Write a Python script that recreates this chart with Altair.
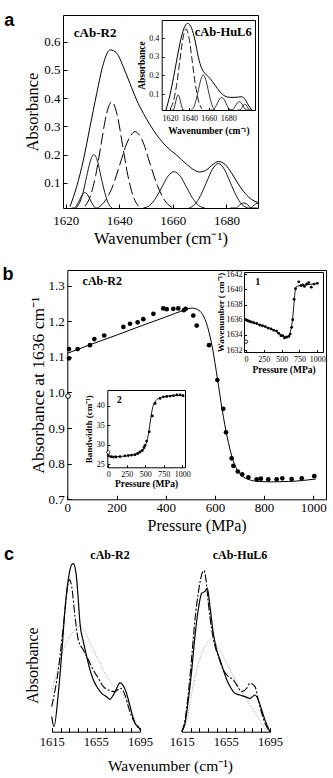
import altair as alt
import pandas as pd

W, H = 333, 778
SERIF = "Liberation Serif"
SANS = "Liberation Sans"
CM = "cm\u207b\u00b9"

# ================= DATA =================
# ---- panel a : cAb-R2 amide I band and its fitted components ----
A_COMP_X = [1621.6, 1624.1, 1626.6, 1629.1, 1631.6, 1634.1, 1636.6, 1639.1, 1641.5, 1644.0, 1646.5, 1649.0, 1651.5,
            1654.0, 1657.7, 1661.4, 1665.2, 1668.0, 1670.0, 1672.5, 1675.0, 1677.0, 1679.5, 1682.0, 1684.5, 1687.0,
            1689.5, 1691.8]
A_COMP_Y = [0.015, 0.086, 0.180, 0.299, 0.417, 0.523, 0.571, 0.559, 0.511, 0.452, 0.393, 0.346, 0.305,
            0.269, 0.228, 0.198, 0.165, 0.145, 0.138, 0.145, 0.165, 0.175, 0.165, 0.133, 0.095, 0.062,
            0.040, 0.030]
A_C1_X = [1622.2, 1623.2, 1624.2, 1625.2, 1626.2, 1627.2, 1628.2, 1629.2, 1630.2, 1631.2, 1632.2]
A_C1_Y = [0.003, 0.009, 0.021, 0.039, 0.057, 0.065, 0.057, 0.039, 0.021, 0.009, 0.003]
A_C2_X = [1623.8, 1625.1, 1626.5, 1627.8, 1629.2, 1630.5, 1631.9, 1633.2, 1634.6, 1635.9, 1637.3]
A_C2_Y = [0.009, 0.027, 0.065, 0.121, 0.176, 0.200, 0.176, 0.121, 0.065, 0.027, 0.009]
A_C3_X = [1627.2, 1629.2, 1631.2, 1633.2, 1635.2, 1637.2, 1639.2, 1641.2, 1643.2, 1645.2, 1647.2]
A_C3_Y = [0.017, 0.052, 0.126, 0.235, 0.342, 0.387, 0.342, 0.235, 0.126, 0.052, 0.017]
A_C4_X = [1632.2, 1634.9, 1637.7, 1640.4, 1643.2, 1645.9, 1648.7, 1651.4, 1654.2, 1656.9, 1659.7]
A_C4_Y = [0.012, 0.038, 0.091, 0.170, 0.248, 0.281, 0.248, 0.170, 0.091, 0.038, 0.012]
A_C5_X = [1649.0, 1651.3, 1653.6, 1655.9, 1658.2, 1660.5, 1662.8, 1665.1, 1667.4, 1669.7, 1672.0]
A_C5_Y = [0.006, 0.019, 0.045, 0.084, 0.123, 0.139, 0.123, 0.084, 0.045, 0.019, 0.006]
A_C6_X = [1666.0, 1668.2, 1670.4, 1672.6, 1674.8, 1677.0, 1679.2, 1681.4, 1683.6, 1685.8, 1688.0]
A_C6_Y = [0.007, 0.023, 0.055, 0.102, 0.148, 0.168, 0.148, 0.102, 0.055, 0.023, 0.007]
A_C7_X = [1681.5, 1682.5, 1683.5, 1684.5, 1685.5, 1686.5, 1687.5, 1688.5, 1689.5, 1690.5, 1691.5]
A_C7_Y = [0.001, 0.004, 0.009, 0.017, 0.025, 0.028, 0.025, 0.017, 0.009, 0.004, 0.001]
A_C8_X = [1688.0, 1689.0, 1690.0, 1691.0, 1691.8]
A_C8_Y = [0.004, 0.010, 0.018, 0.025, 0.028]

# ---- panel a inset : cAb-HuL6 ----
AI_COMP_X = [1615.9, 1620.0, 1625.1, 1630.3, 1634.4, 1638.2, 1642.3, 1645.7, 1649.1, 1652.6, 1656.0, 1661.2,
             1666.3, 1671.4, 1676.6, 1681.7, 1686.9, 1693.8, 1697.2, 1700.6, 1704.0]
AI_COMP_Y = [0.014, 0.095, 0.229, 0.373, 0.453, 0.480, 0.453, 0.390, 0.301, 0.238, 0.211, 0.184,
             0.148, 0.112, 0.089, 0.082, 0.082, 0.085, 0.072, 0.041, 0.014]
AI_C1_X = [1622.2, 1623.4, 1624.7, 1625.9, 1627.2, 1628.4, 1629.7, 1630.9, 1632.2, 1633.4, 1634.7]
AI_C1_Y = [0.004, 0.013, 0.031, 0.058, 0.084, 0.095, 0.084, 0.058, 0.031, 0.013, 0.004]
AI_C2_X = [1620.3, 1623.5, 1626.8, 1630.0, 1633.3, 1636.5, 1639.8, 1643.0, 1646.3, 1649.5, 1652.8]
AI_C2_Y = [0.020, 0.061, 0.146, 0.273, 0.397, 0.450, 0.397, 0.273, 0.146, 0.061, 0.020]
AI_C3_X = [1641.8, 1644.3, 1646.8, 1649.3, 1651.8, 1654.3, 1656.8, 1659.3, 1661.8, 1664.3, 1666.8]
AI_C3_Y = [0.009, 0.027, 0.066, 0.123, 0.178, 0.202, 0.178, 0.123, 0.066, 0.027, 0.009]
AI_C4_X = [1662.0, 1664.2, 1666.5, 1668.7, 1671.0, 1673.2, 1675.5, 1677.7, 1680.0, 1682.2, 1684.5]
AI_C4_Y = [0.004, 0.011, 0.027, 0.050, 0.072, 0.082, 0.072, 0.050, 0.027, 0.011, 0.004]
AI_C5_X = [1681.3, 1683.3, 1685.3, 1687.3, 1689.3, 1691.3, 1693.3, 1695.3, 1697.3, 1699.3, 1701.3]
AI_C5_Y = [0.003, 0.008, 0.019, 0.036, 0.052, 0.059, 0.052, 0.036, 0.019, 0.008, 0.003]
AI_C6_X = [1689.5, 1691.0, 1692.5, 1694.0, 1695.5, 1697.0, 1698.5, 1700.0, 1701.5, 1703.0, 1704.5]
AI_C6_Y = [0.002, 0.006, 0.015, 0.027, 0.040, 0.045, 0.040, 0.027, 0.015, 0.006, 0.002]

# ---- panel b : absorbance at 1636 vs pressure ----
B_P = [7, 7, 42, 92, 110, 150, 228, 255, 286, 309, 350, 390, 404, 431, 451, 474, 481, 512, 526, 576, 610,
       634, 645, 668, 675, 693, 711, 736, 770, 787, 817, 851, 874, 912, 953, 1004]
B_A = [1.122, 1.096, 1.122, 1.133, 1.150, 1.160, 1.184, 1.193, 1.197, 1.206, 1.221, 1.236, 1.234, 1.235,
       1.236, 1.231, 1.235, 1.216, 1.188, 1.133, 1.035, 0.954, 0.888, 0.815, 0.794, 0.778, 0.770, 0.762,
       0.756, 0.758, 0.756, 0.756, 0.759, 0.757, 0.759, 0.765]
B_FIT_P = [0, 100, 200, 300, 400, 470, 510, 530, 550, 570, 590, 610, 630, 650, 670, 690, 710, 740, 780,
           830, 900, 960, 1010]
B_FIT_A = [1.110, 1.136, 1.161, 1.187, 1.212, 1.230, 1.237, 1.233, 1.219, 1.185, 1.125, 1.040, 0.950,
           0.875, 0.818, 0.783, 0.766, 0.755, 0.750, 0.749, 0.750, 0.753, 0.757]
B_OPEN_P = [3]
B_OPEN_A = [0.99]

# ---- inset 1 : band position ----
B1_P = [0, 20, 45, 75, 110, 150, 190, 230, 270, 310, 350, 390, 430, 460, 490, 515, 540, 570, 600, 620,
        640, 655, 675, 695, 740, 770, 795, 820, 850, 880, 915, 955, 1000]
B1_W = [1636.0, 1635.9, 1635.8, 1635.7, 1635.6, 1635.5, 1635.3, 1635.2, 1635.1, 1634.9, 1634.8, 1634.6,
        1634.5, 1634.2, 1633.9, 1633.9, 1633.6, 1633.7, 1633.8, 1634.1, 1635.0, 1636.0, 1638.7, 1640.1,
        1641.0, 1640.5, 1640.6, 1640.4, 1640.7, 1640.9, 1640.3, 1640.7, 1640.8]
B1_FIT_P = [0, 200, 400, 540, 580, 610, 630, 650, 670, 690, 710, 750, 850, 1000]
B1_FIT_W = [1635.9, 1635.3, 1634.6, 1633.8, 1633.8, 1634.1, 1634.7, 1635.8, 1637.8, 1639.8, 1640.4,
            1640.5, 1640.6, 1640.8]
B1_OPEN_P = [0]
B1_OPEN_W = [1633.1]

# ---- inset 2 : bandwidth ----
B2_P = [0, 36, 68, 104, 158, 225, 270, 315, 360, 396, 428, 459, 482, 495, 518, 554, 595, 631, 699, 745,
        790, 835, 880, 925, 970, 1010]
B2_B = [27.2, 26.9, 26.8, 26.8, 26.9, 27.1, 27.2, 27.3, 27.4, 27.7, 28.1, 28.5, 29.2, 29.8, 30.9, 33.3,
        37.4, 40.6, 41.9, 42.3, 42.4, 42.5, 42.6, 42.8, 42.8, 42.6]
B2_FIT_P = [0, 100, 200, 300, 400, 450, 490, 520, 540, 560, 580, 600, 630, 680, 750, 850, 1000]
B2_FIT_B = [26.9, 26.9, 27.0, 27.2, 27.7, 28.3, 29.3, 30.8, 32.5, 35.0, 37.6, 39.6, 41.0, 41.9, 42.3,
            42.6, 42.7]
B2_OPEN_P = [0]
B2_OPEN_B = [28.0]

# ---- panel c : spectra (arbitrary absorbance) ----
CL_SOLID_X = [1615, 1617.1, 1621.0, 1624.1, 1627.0, 1630.0, 1633.1, 1634.6, 1637.0, 1639.1, 1640.6, 1643.6,
              1646.7, 1649.7, 1652.7, 1655.8, 1660.3, 1664.8, 1667.8, 1670.8, 1673.9, 1676.9, 1679.3, 1682.3,
              1685.3, 1688.4, 1691.4, 1693.5, 1695]
CL_SOLID_Y = [0.089, 0.030, 0.228, 0.466, 0.724, 0.903, 0.992, 0.998, 0.943, 0.784, 0.645, 0.536, 0.447,
              0.367, 0.308, 0.268, 0.228, 0.208, 0.192, 0.218, 0.258, 0.292, 0.278, 0.238, 0.169, 0.089,
              0.040, 0.030, 0.010]
CL_DD_X = [1615, 1621.0, 1625.5, 1630.0, 1631.0, 1633.1, 1636.1, 1639.1, 1643.6, 1648.2, 1652.7, 1657.2,
           1661.8, 1666.3, 1672.4, 1676.9, 1681.4, 1684.4, 1687.5, 1690.5, 1695]
CL_DD_Y = [0.149, 0.367, 0.625, 0.883, 0.903, 0.863, 0.684, 0.546, 0.486, 0.427, 0.367, 0.318, 0.268,
           0.248, 0.238, 0.258, 0.218, 0.149, 0.089, 0.050, 0.010]
CL_DOT_X = [1615, 1619.5, 1625.5, 1631.6, 1637.7, 1640.0, 1645.2, 1649.7, 1655.8, 1661.8, 1667.8, 1673.9,
            1679.9, 1685.9, 1690.5, 1695]
CL_DOT_Y = [0.238, 0.347, 0.486, 0.566, 0.615, 0.625, 0.595, 0.526, 0.447, 0.367, 0.298, 0.258, 0.218,
            0.149, 0.069, 0.010]
CR_SOLID_X = [1615, 1618.0, 1621.0, 1624.1, 1627.0, 1630.0, 1633.1, 1636.1, 1638.2, 1640.6, 1643.6, 1646.7,
              1649.7, 1652.7, 1655.8, 1658.8, 1663.3, 1667.8, 1672.4, 1676.9, 1681.4, 1684.4, 1687.5, 1690.5,
              1693.5, 1695]
CR_SOLID_Y = [0.0, 0.050, 0.188, 0.367, 0.566, 0.724, 0.823, 0.833, 0.853, 0.744, 0.586, 0.486, 0.427,
              0.367, 0.308, 0.268, 0.228, 0.218, 0.208, 0.198, 0.218, 0.188, 0.129, 0.069, 0.020, 0.0]
CR_DD_X = [1615, 1618.0, 1621.0, 1624.1, 1627.0, 1630.0, 1633.1, 1635.2, 1637.0, 1639.1, 1642.2, 1645.2,
           1648.2, 1652.7, 1657.2, 1661.8, 1664.8, 1669.4, 1673.9, 1676.9, 1681.4, 1684.4, 1687.5, 1690.5, 1695]
CR_DD_Y = [0.0, 0.069, 0.228, 0.447, 0.665, 0.823, 0.933, 0.958, 0.903, 0.764, 0.605, 0.506, 0.447,
           0.367, 0.328, 0.308, 0.278, 0.238, 0.258, 0.288, 0.268, 0.188, 0.109, 0.050, 0.0]
CR_DOT_X = [1615, 1619.5, 1624.1, 1628.6, 1633.1, 1637.7, 1642.2, 1646.7, 1651.2, 1655.8, 1661.8, 1667.8,
            1673.9, 1679.9, 1685.9, 1692.0, 1695]
CR_DOT_Y = [0.0, 0.069, 0.228, 0.367, 0.466, 0.526, 0.546, 0.516, 0.466, 0.407, 0.328, 0.248, 0.188,
            0.129, 0.069, 0.010, 0.0]

# axis tick values
A_XT = [1620, 1640, 1660, 1680]
A_YT = [0.1, 0.2, 0.3, 0.4, 0.5, 0.6]
AI_YT = [0.1, 0.2, 0.3, 0.4]
B_XT = [0, 200, 400, 600, 800, 1000]
B_YT = [0.7, 0.8, 0.9, 1.0, 1.1, 1.2, 1.3]
B1_YT = [1632, 1634, 1636, 1638, 1640, 1642]
INS_XT = [0, 250, 500, 750, 1000]
B2_YT = [25, 30, 35, 40]
C_XT = [1615, 1655, 1695]
C_MINOR = [1615, 1623, 1631, 1639, 1647, 1655, 1663, 1671, 1679, 1687, 1695]

# ================= LAYOUT (pixel boxes) =================
BOX = {
    "a":  dict(xd=[1619.0, 1691.8], xr=[63, 258], yd=[0.0103, 0.6947], yr=[208, 15]),
    "ai": dict(xd=[1611.5, 1707.5], xr=[161.7, 255], yd=[0.014, 0.498], yr=[110, 20]),
    "b":  dict(xd=[0, 1051.6], xr=[67.3, 326], yd=[0.7, 1.344], yr=[499.3, 270]),
    "b1": dict(xd=[-28, 1080], xr=[244, 323], yd=[1631.74, 1642.3], yr=[352, 272]),
    "b2": dict(xd=[-13.5, 1036], xr=[107.3, 185], yd=[24.15, 44.07], yr=[467.3, 390]),
    "cl": dict(xd=[1615, 1695], xr=[51.7, 140], yd=[0, 1], yr=[731.7, 563.3]),
    "cr": dict(xd=[1615, 1695], xr=[181.7, 270], yd=[0, 1], yr=[731.7, 563.3]),
}


def offset(orient, pos):
    return {"bottom": pos - H, "left": -pos, "top": -pos, "right": pos - W}[orient]


def enc(box, xaxis=None, yaxis=None, clamp=False):
    b = BOX[box]
    return dict(
        x=alt.X("x:Q", scale=alt.Scale(domain=b["xd"], range=b["xr"], nice=False, zero=False, clamp=clamp),
                axis=xaxis),
        y=alt.Y("y:Q", scale=alt.Scale(domain=b["yd"], range=b["yr"], nice=False, zero=False, clamp=clamp),
                axis=yaxis),
    )


def lab_axis(orient, pos, values, size, fmt, title=None, tsize=12, bold=False, lpad=2, tpad=2, **kw):
    args = dict(orient=orient, offset=offset(orient, pos), values=values, ticks=False, grid=False,
                domain=True, domainColor="black", domainWidth=1, labelFontSize=size, labelFont=SERIF,
                labelColor="black", labelPadding=lpad, labelFlush=False, labelOverlap=False, format=fmt,
                title=title)
    if title:
        args.update(titleFont=SERIF, titleFontSize=tsize, titleFontWeight="bold" if bold else "normal",
                    titlePadding=tpad, titleColor="black")
    args.update(kw)
    return alt.Axis(**args)


def tick_axis(orient, pos, values, size):
    return alt.Axis(orient=orient, offset=offset(orient, pos), values=values, ticks=True, tickSize=size,
                    tickColor="black", tickWidth=1, labels=False, domain=False, grid=False, title=None)


def frame_axis(orient, pos):
    return alt.Axis(orient=orient, offset=offset(orient, pos), values=[], ticks=False, labels=False,
                    domain=True, domainColor="black", domainWidth=1, grid=False, title=None)


def xy(xs, ys):
    return pd.DataFrame({"x": xs, "y": ys})


def comps(*named):
    rows = []
    for name, xs, ys in named:
        for x, y in zip(xs, ys):
            rows.append({"comp": name, "x": x, "y": y})
    return pd.DataFrame(rows)


def frame_layers(box, df, xt, yt, tsize):
    b = BOX[box]
    ticks = alt.Chart(df).mark_point(opacity=0).encode(
        **enc(box, tick_axis("top", b["yr"][0], xt, tsize), tick_axis("right", b["xr"][0], yt, tsize)))
    frame = alt.Chart(df).mark_point(opacity=0).encode(
        **enc(box, frame_axis("top", b["yr"][1]), frame_axis("right", b["xr"][1])))
    return [ticks, frame]


def text_layer(box, rows, font, size, weight="bold"):
    df = pd.DataFrame(rows, columns=["x", "y", "t"])
    return alt.Chart(df).mark_text(font=font, fontSize=size, fontWeight=weight, align="center",
                                   baseline="middle", color="black").encode(text="t:N", **enc(box))


L = []

# ---------------- panel a ----------------
a_comp = xy(A_COMP_X, A_COMP_Y)
L += frame_layers("a", a_comp, A_XT, A_YT, 4)
L.append(alt.Chart(a_comp).mark_line(color="black", strokeWidth=1, interpolate="monotone").encode(
    **enc("a",
          lab_axis("bottom", 208, A_XT, 13, "d", "Wavenumber (" + CM + ")", 16.5, lpad=6, tpad=3),
          lab_axis("left", 63, A_YT, 13, ".1f", "Absorbance", 16.5, lpad=3, tpad=3),
          clamp=True)))
a_solid = comps(("c1", A_C1_X, A_C1_Y), ("c2", A_C2_X, A_C2_Y), ("c5", A_C5_X, A_C5_Y),
                ("c6", A_C6_X, A_C6_Y), ("c7", A_C7_X, A_C7_Y), ("c8", A_C8_X, A_C8_Y))
a_dash = comps(("c3", A_C3_X, A_C3_Y), ("c4", A_C4_X, A_C4_Y))
L.append(alt.Chart(a_solid).mark_line(color="black", strokeWidth=0.9, interpolate="monotone").encode(
    detail="comp:N", **enc("a", clamp=True)))
L.append(alt.Chart(a_dash).mark_line(color="black", strokeWidth=1, strokeDash=[12, 4],
                                     interpolate="monotone").encode(detail="comp:N", **enc("a", clamp=True)))
L.append(text_layer("a", [(1598.9, 0.673, "a")], SANS, 18))
L.append(text_layer("a", [(1631.0, 0.631, "cAb-R2")], SERIF, 13))

# ---------------- panel a inset ----------------
ai_comp = xy(AI_COMP_X, AI_COMP_Y)
L += frame_layers("ai", ai_comp, A_XT, AI_YT, 2.5)
L.append(alt.Chart(ai_comp).mark_line(color="black", strokeWidth=1, interpolate="monotone").encode(
    **enc("ai",
          lab_axis("bottom", 110, A_XT, 8, "d", "Wavenumber  (" + CM + ")", 9.5, bold=True, lpad=4, tpad=3),
          lab_axis("left", 161.7, AI_YT, 8, ".1f", "Absorbance", 9.5, bold=True, lpad=3, tpad=2),
          clamp=True)))
ai_solid = comps(("c1", AI_C1_X, AI_C1_Y), ("c3", AI_C3_X, AI_C3_Y), ("c4", AI_C4_X, AI_C4_Y),
                 ("c5", AI_C5_X, AI_C5_Y), ("c6", AI_C6_X, AI_C6_Y))
ai_dash = comps(("c2", AI_C2_X, AI_C2_Y))
L.append(alt.Chart(ai_solid).mark_line(color="black", strokeWidth=0.8, interpolate="monotone").encode(
    detail="comp:N", **enc("ai", clamp=True)))
L.append(alt.Chart(ai_dash).mark_line(color="black", strokeWidth=0.9, strokeDash=[7, 3],
                                      interpolate="monotone").encode(detail="comp:N", **enc("ai", clamp=True)))
L.append(text_layer("ai", [(1674.8, 0.433, "cAb-HuL6")], SERIF, 12.5))

# ---------------- panel b ----------------
b_pts = xy(B_P, B_A)
L += frame_layers("b", b_pts, B_XT, B_YT, 4)
L.append(alt.Chart(xy(B_FIT_P, B_FIT_A)).mark_line(color="black", strokeWidth=1, interpolate="monotone").encode(
    **enc("b")))
L.append(alt.Chart(b_pts).mark_circle(size=22, color="black", opacity=1).encode(
    **enc("b",
          lab_axis("bottom", 499.3, B_XT, 13, "d", "Pressure (MPa)", 16, lpad=2, tpad=3),
          lab_axis("left", 67.3, B_YT, 13, ".1f", "Absorbance at 1636 " + CM, 17.5, lpad=3, tpad=1))))
L.append(alt.Chart(xy(B_OPEN_P, B_OPEN_A)).mark_circle(size=22, fill="white", stroke="black", strokeWidth=1,
                                                        opacity=1).encode(**enc("b")))
L.append(text_layer("b", [(-241, 1.330, "b")], SANS, 18))
L.append(text_layer("b", [(142, 1.313, "cAb-R2")], SERIF, 12))

# ---------------- inset 1 ----------------
b1_pts = xy(B1_P, B1_W)
L += frame_layers("b1", b1_pts, INS_XT, B1_YT, 2.5)
L.append(alt.Chart(xy(B1_FIT_P, B1_FIT_W)).mark_line(color="black", strokeWidth=0.9,
                                                       interpolate="monotone").encode(**enc("b1")))
L.append(alt.Chart(b1_pts).mark_circle(size=8, color="black", opacity=1).encode(
    **enc("b1",
          lab_axis("bottom", 352, INS_XT, 8, "d", "Pressure (MPa)", 9.5, bold=True, lpad=3, tpad=1),
          lab_axis("left", 244, B1_YT, 8, "d", "Wavenumber ( " + CM + ")", 9, bold=True, lpad=2, tpad=1))))
L.append(alt.Chart(xy(B1_OPEN_P, B1_OPEN_W)).mark_circle(size=12, fill="white", stroke="black",
                                                          strokeWidth=0.8, opacity=1).encode(**enc("b1")))
L.append(text_layer("b1", [(164, 1641.0, "1")], SERIF, 10))

# ---------------- inset 2 ----------------
b2_pts = xy(B2_P, B2_B)
L += frame_layers("b2", b2_pts, INS_XT, B2_YT, 2.5)
L.append(alt.Chart(xy(B2_FIT_P, B2_FIT_B)).mark_line(color="black", strokeWidth=0.9,
                                                       interpolate="monotone").encode(**enc("b2")))
L.append(alt.Chart(b2_pts).mark_circle(size=8, color="black", opacity=1).encode(
    **enc("b2",
          lab_axis("bottom", 467.3, INS_XT, 8, "d", "Pressure (MPa)", 9.5, bold=True, lpad=3, tpad=0),
          lab_axis("left", 107.3, B2_YT, 8, "d", "Bandwidth (" + CM + ")", 9, bold=True, lpad=3, tpad=3))))
L.append(alt.Chart(xy(B2_OPEN_P, B2_OPEN_B)).mark_circle(size=12, fill="white", stroke="black",
                                                          strokeWidth=0.8, opacity=1).encode(**enc("b2")))
L.append(text_layer("b2", [(149, 41.5, "2")], SERIF, 10))

# ---------------- panel c ----------------
for box, sx, sy, dx, dy, ox, oy, first in [
        ("cl", CL_SOLID_X, CL_SOLID_Y, CL_DD_X, CL_DD_Y, CL_DOT_X, CL_DOT_Y, True),
        ("cr", CR_SOLID_X, CR_SOLID_Y, CR_DD_X, CR_DD_Y, CR_DOT_X, CR_DOT_Y, False)]:
    if first:
        xax = lab_axis("bottom", 731.7, C_XT, 12.5, "d", "Wavenumber (" + CM + ")", 15.5, lpad=4, tpad=10,
                       titleX=170)
        yax = alt.Axis(orient="left", offset=offset("left", 51.7), domain=False, ticks=False, labels=False,
                       grid=False, title="Absorbance", titleFont=SERIF, titleFontSize=16,
                       titleFontWeight="normal", titleColor="black", titlePadding=11, titleY=665)
    else:
        xax = lab_axis("bottom", 731.7, C_XT, 12.5, "d", None, lpad=4)
        yax = None
    L.append(alt.Chart(xy(ox, oy)).mark_line(color="#999999", strokeWidth=1, strokeDash=[1, 1.5],
                                             interpolate="monotone").encode(**enc(box)))
    L.append(alt.Chart(xy(dx, dy)).mark_line(color="black", strokeWidth=1.1, strokeDash=[8, 2, 2, 2],
                                             interpolate="monotone").encode(
        **enc(box, tick_axis("top", 731.7, C_MINOR, 4), None)))
    L.append(alt.Chart(xy(sx, sy)).mark_line(color="black", strokeWidth=1.2, interpolate="monotone").encode(
        **enc(box, xax, yax)))

L.append(text_layer("cl", [(1576.3, 1.049, "c")], SANS, 18))
L.append(text_layer("cl", [(1667.8, 1.049, "cAb-R2")], SERIF, 12))
L.append(text_layer("cr", [(1667.8, 1.049, "cAb-HuL6")], SERIF, 12))

chart = alt.layer(*L).resolve_scale(x="independent", y="independent").resolve_axis(
    x="independent", y="independent").properties(
    width=W, height=H, autosize=alt.AutoSizeParams(type="none"), padding=0, background="white"
).configure(font=SERIF).configure_axis(labelFont=SERIF, titleFont=SERIF).configure_view(strokeWidth=0)

chart.save("out.html", embed_options={"renderer": "svg", "actions": False})
